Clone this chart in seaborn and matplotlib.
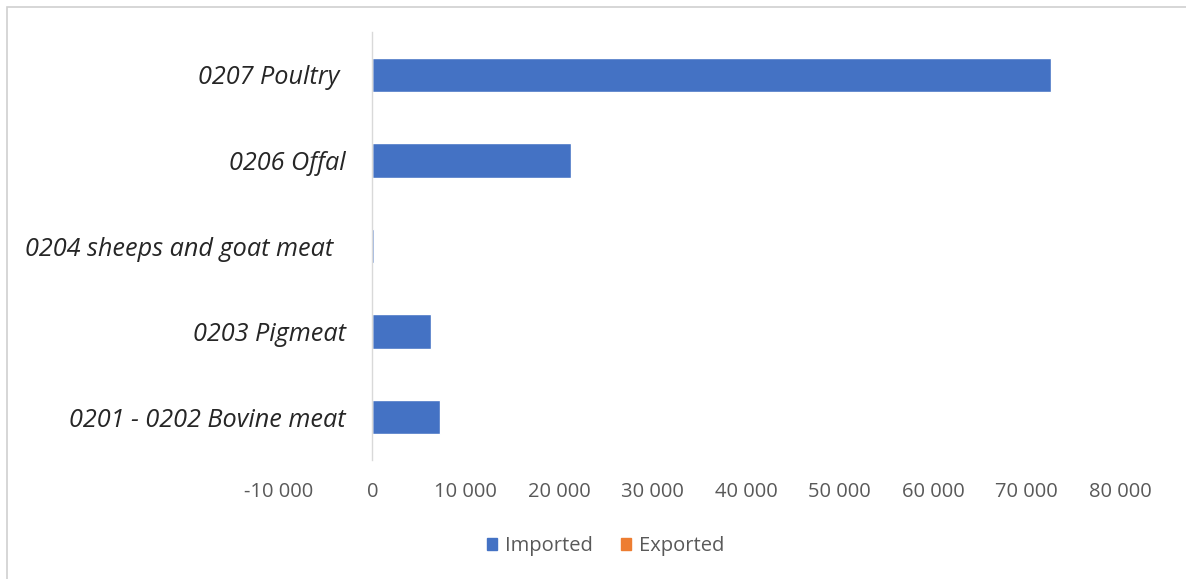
import matplotlib
matplotlib.use("Agg")
import matplotlib.pyplot as plt
import matplotlib.patches as mpatches
from matplotlib.ticker import FuncFormatter, MultipleLocator
import seaborn as sns
import pandas as pd

# Meat trade by HS heading (tonnes)
categories = [
    "0207 Poultry ",
    "0206 Offal",
    "0204 sheeps and goat meat  ",
    "0203 Pigmeat",
    "0201 - 0202 Bovine meat",
]
imported = [72600, 21200, 150, 6300, 7200]
exported = [0, 0, 0, 0, 0]
series_names = ["Imported", "Exported"]
series_colors = ["#4472C4", "#ED7D31"]

df = pd.DataFrame({
    "category": categories * 2,
    "value": imported + exported,
    "series": [series_names[0]] * len(categories) + [series_names[1]] * len(categories),
})

sns.set_theme(style="white")
plt.rcParams["font.family"] = ["Open Sans", "DejaVu Sans"]

fig = plt.figure(figsize=(11.86, 5.79), dpi=100)
ax = fig.add_axes([279 / 1186, 1 - 460 / 579, (1120 - 279) / 1186, (460 - 32) / 579])

sns.barplot(
    data=df, y="category", x="value", hue="series", order=categories,
    hue_order=series_names, palette=series_colors, orient="h",
    dodge=False, width=0.4, ax=ax, legend=False, saturation=1,
)

ax.set_xlim(-10000, 80000)
ax.xaxis.set_major_locator(MultipleLocator(10000))
ax.xaxis.set_major_formatter(FuncFormatter(lambda v, _: f"{int(v):,}".replace(",", " ")))
ax.set_xlabel("")
ax.set_ylabel("")

for side in ["top", "right", "bottom"]:
    ax.spines[side].set_visible(False)
ax.spines["left"].set_position(("data", 0))
ax.spines["left"].set_color("#D9D9D9")
ax.spines["left"].set_linewidth(1.0)

ax.tick_params(axis="x", length=0, pad=16, labelsize=14.5, labelcolor="#595959")
ax.tick_params(axis="y", length=0, pad=19, labelsize=18.2, labelcolor="#262626")
for lbl in ax.get_yticklabels():
    lbl.set_fontstyle("italic")

handles = [mpatches.Patch(color=c, label=n) for n, c in zip(series_names, series_colors)]
fig.legend(
    handles=handles, loc="center", bbox_to_anchor=(606 / 1186, 1 - 546 / 579),
    ncol=2, frameon=False, fontsize=14.5, handlelength=0.5, handleheight=0.5,
    handletextpad=0.4, columnspacing=1.4, labelcolor="#595959",
)

# light frame around the chart area
fig.patches.append(mpatches.Rectangle(
    (7 / 1186, -0.01), 1.02, 1 - 7 / 579 + 0.01, transform=fig.transFigure,
    fill=False, edgecolor="#D0D0D0", linewidth=1.2,
))

fig.savefig("out.png", dpi=100, facecolor="white")
